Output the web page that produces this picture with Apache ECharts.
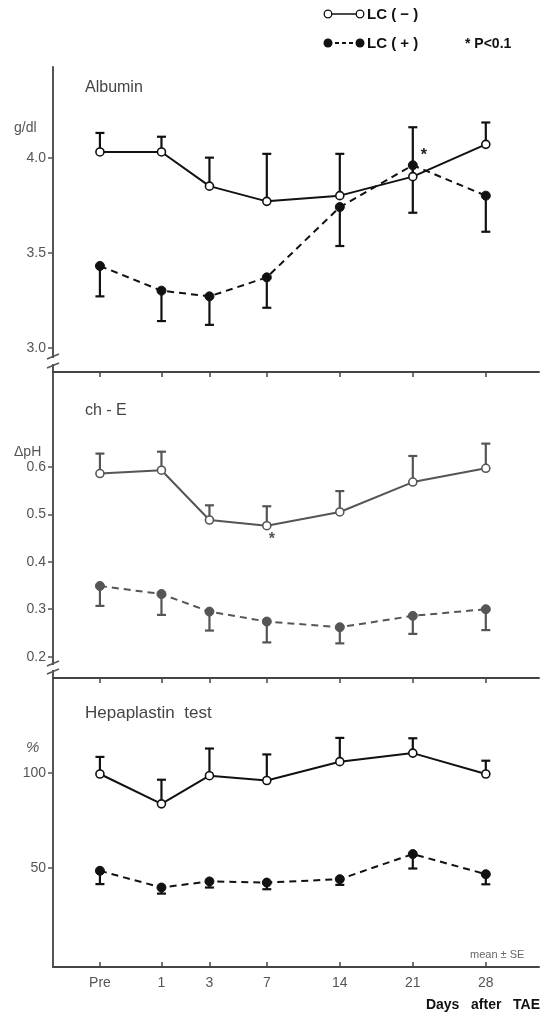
<!DOCTYPE html>
<html>
<head>
<meta charset="utf-8">
<script src="https://cdn.jsdelivr.net/npm/echarts@6/dist/echarts.min.js"></script>
<style>
  html, body { margin: 0; padding: 0; background: #fff; }
  #chart { width: 545px; height: 1015px; }
</style>
</head>
<body>
<div id="chart"></div>
<script>
  // 横軸: 日数 (元図は初期の日数を引き伸ばした目盛)
  var dayLabels = ['Pre', '1', '3', '7', '14', '21', '28'];
  var dayPos = [-9.0, -3.1, 1.5, 7, 14, 21, 28];

  // Albumin (g/dl)
  var albNeg = [4.03, 4.03, 3.85, 3.77, 3.80, 3.90, 4.07];
  var albNegSE = [0.10, 0.08, 0.15, 0.25, 0.22, 0.26, 0.115];
  var albPos = [3.43, 3.30, 3.27, 3.37, 3.74, 3.96, 3.80];
  var albPosSE = [0.16, 0.16, 0.15, 0.16, 0.205, 0.25, 0.19];
  var albTicks = [3.0, 3.5, 4.0];

  // ch-E (ΔpH)
  var cheNeg = [0.586, 0.593, 0.488, 0.476, 0.505, 0.568, 0.597];
  var cheNegSE = [0.042, 0.039, 0.031, 0.041, 0.044, 0.055, 0.052];
  var chePos = [0.349, 0.332, 0.295, 0.274, 0.262, 0.286, 0.300];
  var chePosSE = [0.042, 0.044, 0.040, 0.044, 0.034, 0.038, 0.044];
  var cheTicks = [0.2, 0.3, 0.4, 0.5, 0.6];

  // Hepaplastin test (%)
  var hepNeg = [99.5, 83.8, 98.6, 96.1, 106.0, 110.5, 99.5];
  var hepNegSE = [9, 12.7, 14.3, 13.7, 12.5, 7.8, 7];
  var hepPos = [48.6, 39.8, 43.0, 42.4, 44.2, 57.4, 46.8];
  var hepPosSE = [7, 3.2, 3.2, 3.5, 3, 7.6, 5.3];
  var hepTicks = [50, 100];

  // * P<0.1 の位置 (index)
  var albSig = [5];   // LC(+) day 21
  var cheSig = [3];   // LC(-) day 7

  var FONT = 'Liberation Sans';
  var X_MIN = -13.5, X_MAX = 33.1;

  function pts(vals, sig, sigLabel) {
    return vals.map(function (v, i) {
      var item = { value: [dayPos[i], v] };
      if (sig && sig.indexOf(i) >= 0) {
        item.label = Object.assign({ show: true, formatter: '*', fontSize: 16, fontWeight: 'bold', color: '#222', fontFamily: FONT }, sigLabel);
      }
      return item;
    });
  }

  function errData(vals, se) {
    return vals.map(function (v, i) { return [dayPos[i], v, se[i]]; });
  }

  // 誤差棒 (dir: +1 上向き, -1 下向き)
  function errSeries(idx, vals, se, dir, color) {
    return {
      type: 'custom',
      xAxisIndex: idx,
      yAxisIndex: idx,
      z: 1,
      silent: true,
      renderItem: function (params, api) {
        var x = api.value(0), v = api.value(1), s = api.value(2);
        var p0 = api.coord([x, v]);
        var p1 = api.coord([x, v + dir * s]);
        var w = 4.5;
        return {
          type: 'group',
          children: [
            { type: 'line', shape: { x1: p0[0], y1: p0[1], x2: p1[0], y2: p1[1] }, style: { stroke: color, lineWidth: 2.2 } },
            { type: 'line', shape: { x1: p1[0] - w, y1: p1[1], x2: p1[0] + w, y2: p1[1] }, style: { stroke: color, lineWidth: 2.2 } }
          ]
        };
      },
      data: errData(vals, se)
    };
  }

  function openLine(idx, vals, color, sig, sigLabel) {
    return {
      type: 'line', xAxisIndex: idx, yAxisIndex: idx, z: 3,
      symbol: 'circle', symbolSize: 8,
      itemStyle: { color: '#fff', borderColor: color, borderWidth: 1.6 },
      lineStyle: { color: color, width: 2 },
      data: pts(vals, sig, sigLabel)
    };
  }

  function filledLine(idx, vals, color, sig, sigLabel) {
    return {
      type: 'line', xAxisIndex: idx, yAxisIndex: idx, z: 3,
      symbol: 'circle', symbolSize: 9,
      itemStyle: { color: color, borderColor: color, borderWidth: 1 },
      lineStyle: { color: color, width: 2, type: [7, 5] },
      data: pts(vals, sig, sigLabel)
    };
  }

  function yAxis(idx, min, max, ticks, digits) {
    return {
      type: 'value', gridIndex: idx, min: min, max: max, position: 'left',
      splitLine: { show: false },
      axisLine: { show: true, onZero: false, lineStyle: { color: '#555', width: 2 } },
      axisTick: { show: true, inside: false, length: 5, customValues: ticks, lineStyle: { color: '#555', width: 1.5 } },
      axisLabel: {
        customValues: ticks, margin: 7, color: '#555', fontSize: 14, fontFamily: FONT,
        formatter: function (v) { return v.toFixed(digits); }
      }
    };
  }

  function xAxisBase(idx, pos) {
    return {
      type: 'value', gridIndex: idx, position: pos, min: X_MIN, max: X_MAX,
      splitLine: { show: false },
      axisLine: { show: true, onZero: false, lineStyle: { color: '#444', width: 2 } },
      axisTick: { show: true, inside: true, length: 5, customValues: dayPos, lineStyle: { color: '#444', width: 1.5 } },
      axisLabel: { show: false }
    };
  }

  var grids = [
    { left: 53, right: 6, top: 67, height: 305 },
    { left: 53, right: 6, top: 372, height: 306 },
    { left: 53, right: 6, top: 678, height: 289 }
  ];

  var xAxes = [
    { type: 'value', gridIndex: 0, min: X_MIN, max: X_MAX, show: false },
    xAxisBase(1, 'top'),
    Object.assign(xAxisBase(2, 'bottom'), {
      axisLabel: {
        show: true, customValues: dayPos, margin: 9, color: '#555', fontSize: 14, fontFamily: FONT,
        formatter: function (v) { return dayLabels[dayPos.indexOf(v)]; }
      }
    }),
    xAxisBase(2, 'top')
  ];

  var yAxes = [
    yAxis(0, 2.872, 4.477, albTicks, 1),
    yAxis(1, 0.155, 0.8, cheTicks, 1),
    yAxis(2, -2, 150, hepTicks, 0)
  ];

  var GRAY = '#555';

  var series = [
    errSeries(0, albNeg, albNegSE, 1, '#111'),
    errSeries(0, albPos, albPosSE, -1, '#111'),
    openLine(0, albNeg, '#111'),
    filledLine(0, albPos, '#111', albSig, { position: 'right', offset: [-2, -10] }),

    errSeries(1, cheNeg, cheNegSE, 1, GRAY),
    errSeries(1, chePos, chePosSE, -1, GRAY),
    openLine(1, cheNeg, GRAY, cheSig, { position: 'bottom', offset: [5, -4], color: '#555' }),
    filledLine(1, chePos, GRAY),

    errSeries(2, hepNeg, hepNegSE, 1, '#111'),
    errSeries(2, hepPos, hepPosSE, -1, '#111'),
    openLine(2, hepNeg, '#111'),
    filledLine(2, hepPos, '#111')
  ];

  function txt(x, y, s, opt) {
    return {
      type: 'text', x: x, y: y, silent: true,
      style: Object.assign({ text: s, fill: '#444', font: '15px ' + FONT, textVerticalAlign: 'middle' }, opt || {})
    };
  }

  // 軸の切れ目
  function axisBreak(yTop, yBot) {
    return [
      { type: 'rect', shape: { x: 49, y: yTop + 2, width: 8, height: yBot - yTop - 4 }, style: { fill: '#fff' }, z: 10 },
      { type: 'line', shape: { x1: 47, y1: yTop + 3, x2: 59, y2: yTop - 2 }, style: { stroke: '#555', lineWidth: 1.5 }, z: 11 },
      { type: 'line', shape: { x1: 47, y1: yBot + 2, x2: 59, y2: yBot - 3 }, style: { stroke: '#555', lineWidth: 1.5 }, z: 11 }
    ];
  }

  var graphics = [
    // 凡例
    { type: 'line', shape: { x1: 328, y1: 14, x2: 360, y2: 14 }, style: { stroke: '#111', lineWidth: 1.5 } },
    { type: 'circle', shape: { cx: 328, cy: 14, r: 3.8 }, style: { fill: '#fff', stroke: '#111', lineWidth: 1.3 } },
    { type: 'circle', shape: { cx: 360, cy: 14, r: 3.8 }, style: { fill: '#fff', stroke: '#111', lineWidth: 1.3 } },
    txt(367, 15, 'LC ( − )', { fill: '#111', font: 'bold 15px ' + FONT }),
    { type: 'line', shape: { x1: 328, y1: 43, x2: 360, y2: 43 }, style: { stroke: '#111', lineWidth: 1.8, lineDash: [4, 3] } },
    { type: 'circle', shape: { cx: 328, cy: 43, r: 4.5 }, style: { fill: '#111' } },
    { type: 'circle', shape: { cx: 360, cy: 43, r: 4.5 }, style: { fill: '#111' } },
    txt(367, 44, 'LC ( + )', { fill: '#111', font: 'bold 15px ' + FONT }),
    txt(465, 44, '* P<0.1', { fill: '#111', font: 'bold 14px ' + FONT }),

    // パネル題・単位
    txt(85, 88, 'Albumin', { font: '16px ' + FONT }),
    txt(14, 128, 'g/dl', { fill: '#555', font: '14px ' + FONT }),
    txt(85, 411, 'ch - E', { font: '16px ' + FONT }),
    txt(14, 452, 'ΔpH', { fill: '#555', font: '14px ' + FONT }),
    txt(85, 713, 'Hepaplastin  test', { fill: '#444', font: '17px ' + FONT }),
    txt(26, 748, '%', { fill: '#555', font: 'italic 15px ' + FONT }),
    txt(470, 955, 'mean ± SE', { fill: '#666', font: '11px ' + FONT }),
    txt(540, 1005, 'Days   after   TAE', { fill: '#111', font: 'bold 14px ' + FONT, textAlign: 'right' })
  ].concat(axisBreak(356, 366), axisBreak(663, 672));

  var myChart = echarts.init(document.getElementById('chart'));
  myChart.setOption({
    backgroundColor: '#fff',
    animation: false,
    grid: grids,
    xAxis: xAxes,
    yAxis: yAxes,
    series: series,
    graphic: { elements: graphics }
  });
</script>
</body>
</html>
